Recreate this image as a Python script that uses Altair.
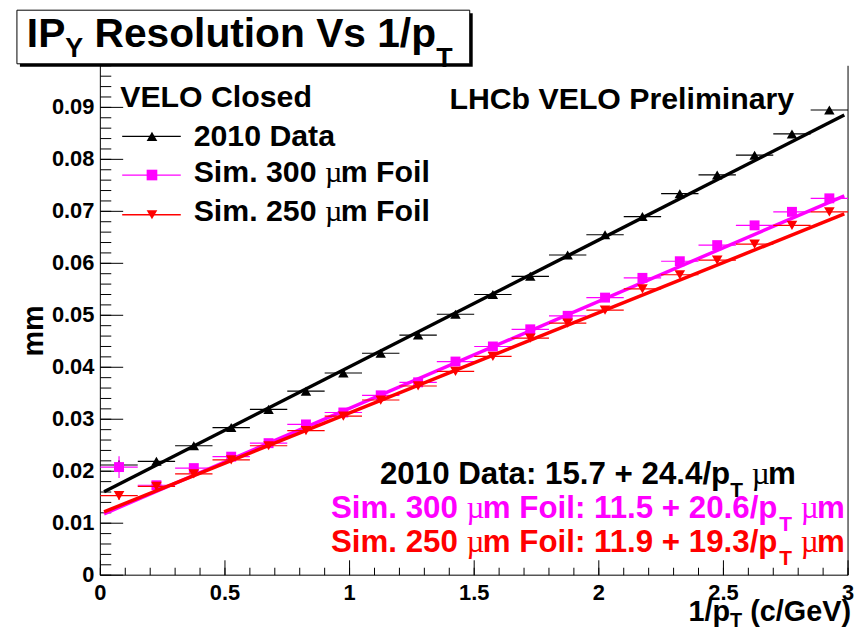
import altair as alt
import pandas as pd

# ------------------------------------------------------------------ data
bin_centers = [0.075, 0.225, 0.375, 0.525, 0.675, 0.825, 0.975, 1.125, 1.275, 1.425,
               1.575, 1.725, 1.875, 2.025, 2.175, 2.325, 2.475, 2.625, 2.775, 2.925]
bin_half_width = 0.075

data_2010 = [0.0212, 0.0219, 0.0249, 0.0284, 0.0319, 0.0354, 0.0389, 0.0427, 0.0462, 0.0502,
             0.0540, 0.0575, 0.0616, 0.0655, 0.0690, 0.0734, 0.0770, 0.0808, 0.0849, 0.0895]
err_2010 = [0.0009, 0.0005, 0.0004, 0.0004, 0.0004, 0.0004, 0.0004, 0.0004, 0.0004, 0.0004,
            0.0004, 0.0004, 0.0004, 0.0004, 0.0004, 0.0004, 0.0004, 0.0005, 0.0005, 0.0005]

sim_300 = [0.0208, 0.0173, 0.0206, 0.0228, 0.0254, 0.0290, 0.0313, 0.0346, 0.0371, 0.0411,
           0.0440, 0.0473, 0.0499, 0.0534, 0.0572, 0.0604, 0.0635, 0.0673, 0.0699, 0.0725]
err_300 = [0.0021, 0.0006, 0.0004, 0.0004, 0.0004, 0.0004, 0.0004, 0.0004, 0.0004, 0.0004,
           0.0004, 0.0004, 0.0004, 0.0004, 0.0004, 0.0004, 0.0004, 0.0005, 0.0005, 0.0005]

sim_250 = [0.0153, 0.0171, 0.0195, 0.0222, 0.0249, 0.0278, 0.0306, 0.0337, 0.0364, 0.0392,
           0.0421, 0.0456, 0.0485, 0.0510, 0.0551, 0.0578, 0.0606, 0.0637, 0.0673, 0.0699]
err_250 = [0.0008, 0.0005, 0.0004, 0.0004, 0.0004, 0.0004, 0.0004, 0.0004, 0.0004, 0.0004,
           0.0004, 0.0004, 0.0004, 0.0004, 0.0004, 0.0004, 0.0004, 0.0005, 0.0005, 0.0005]

series_labels = ["2010 Data", "Sim. 300", "Sim. 250"]
fit_const_um = [15.7, 11.5, 11.9]
fit_slope_um = [24.4, 20.6, 19.3]
fit_x_range = [0.015, 2.985]

x_domain = [0, 3]
y_domain = [0, 0.098]
x_tick_labels = [0, 0.5, 1, 1.5, 2, 2.5, 3]
y_tick_labels = [0, 0.01, 0.02, 0.03, 0.04, 0.05, 0.06, 0.07, 0.08, 0.09]
x_minor_ticks = [round(i * 0.1, 1) for i in range(31)]
y_minor_ticks = [round(i * 0.002, 3) for i in range(50)]

# ------------------------------------------------------------------ style
colors = ["#000000", "#ff00ff", "#ff0000"]
shapes = ["triangle-up", "square", "triangle-down"]
marker_sizes = [110, 100, 115]
SANS = "Liberation Sans"
SERIF = "Liberation Serif"

LEFT, TOP = 101, 64          # page position of plot origin
W, H = 753, 513              # plot area


def X(px):
    return px - LEFT


def Y(py):
    return py - TOP


xs = alt.Scale(domain=x_domain, nice=False, zero=False)
ys = alt.Scale(domain=y_domain, nice=False, zero=False)
one = pd.DataFrame({"k": [0]})

# Helvetica/Arial bold advance widths (1/1000 em)
SANS_B = {' ': 278, '.': 278, ':': 333, '+': 584, '/': 278, '(': 333, ')': 333,
          'D': 722, 'a': 556, 't': 333, 'S': 667, 'i': 278, 'm': 889, 'F': 611,
          'o': 611, 'l': 278, 'p': 611, 'T': 611, 'Y': 667, 'I': 278, 'P': 667,
          'R': 722, 'e': 556, 's': 556, 'u': 611, 'n': 611, 'V': 667, 'c': 556,
          'G': 778, 'E': 667, 'L': 611, 'O': 778, 'C': 722, 'd': 611, 'H': 722,
          'b': 611, 'r': 389, 'y': 556}
for d in "0123456789":
    SANS_B[d] = 556


def adv(t, size, kind):
    if kind == "mu":
        return 0.52 * size * len(t)
    return sum(SANS_B.get(ch, 556) for ch in t) * size / 1000.0


def txt(t, px, py, size, color, kind="b", align="left", angle=0, baseline="alphabetic"):
    font = SERIF if kind == "mu" else SANS
    weight = "normal" if kind == "mu" else "bold"
    return alt.Chart(one).mark_text(
        align=align, baseline=baseline, font=font, fontSize=size, fontWeight=weight,
        color=color, angle=angle
    ).encode(x=alt.value(X(px)), y=alt.value(Y(py)), text=alt.value(t))


def text_runs(runs, x0, base, color, align="left"):
    total = sum(adv(t, s, k) for t, s, dy, k in runs)
    if align == "center":
        x = x0 - total / 2
    elif align == "right":
        x = x0 - total
    else:
        x = x0
    out = []
    for t, s, dy, k in runs:
        if t.strip():
            lead = adv(t[:len(t) - len(t.lstrip())], s, k)
            out.append(txt(t.strip(), x + lead, base + dy, s, color, k))
        x += adv(t, s, k)
    return out


layers = []

# ------------------------------------------------------------------ frame, ticks (inside), labels
layers.append(alt.Chart(one).mark_rule(color="black", strokeWidth=1).encode(
    x=alt.value(0), y=alt.value(0), y2=alt.value(H)))
layers.append(alt.Chart(one).mark_rule(color="black", strokeWidth=1).encode(
    x=alt.value(0), x2=alt.value(W), y=alt.value(H)))
layers.append(alt.Chart(one).mark_rule(color="black", strokeWidth=1).encode(
    x=alt.value(W), y=alt.value(0), y2=alt.value(H)))

layers.append(alt.Chart(pd.DataFrame({"v": y_minor_ticks})).mark_rule(color="black", strokeWidth=1).encode(
    y=alt.Y("v:Q", scale=ys, axis=None), x=alt.value(0), x2=alt.value(11)))
layers.append(alt.Chart(pd.DataFrame({"v": y_tick_labels})).mark_rule(color="black", strokeWidth=1).encode(
    y=alt.Y("v:Q", scale=ys, axis=None), x=alt.value(0), x2=alt.value(23)))
layers.append(alt.Chart(pd.DataFrame({"v": x_minor_ticks})).mark_rule(color="black", strokeWidth=1).encode(
    x=alt.X("v:Q", scale=xs, axis=None), y=alt.value(H), y2=alt.value(H - 7.5)))
layers.append(alt.Chart(pd.DataFrame({"v": x_tick_labels})).mark_rule(color="black", strokeWidth=1).encode(
    x=alt.X("v:Q", scale=xs, axis=None), y=alt.value(H), y2=alt.value(H - 15)))

ylab_df = pd.DataFrame({"v": y_tick_labels, "lab": [f"{v:g}" for v in y_tick_labels]})
layers.append(alt.Chart(ylab_df).mark_text(
    align="right", baseline="middle", font=SANS, fontWeight="bold", fontSize=22, color="black", dx=-6
).encode(y=alt.Y("v:Q", scale=ys, axis=None), x=alt.value(0), text="lab:N"))
xlab_df = pd.DataFrame({"v": x_tick_labels, "lab": [f"{v:g}" for v in x_tick_labels]})
layers.append(alt.Chart(xlab_df).mark_text(
    align="center", baseline="top", font=SANS, fontWeight="bold", fontSize=22, color="black"
).encode(x=alt.X("v:Q", scale=xs, axis=None), y=alt.value(H + 8), text="lab:N"))

# ------------------------------------------------------------------ series
series_values = [data_2010, sim_300, sim_250]
series_errors = [err_2010, err_300, err_250]
for i in range(3):
    vals, errs = series_values[i], series_errors[i]
    df = pd.DataFrame({
        "x": bin_centers, "y": vals,
        "xlo": [b - bin_half_width for b in bin_centers],
        "xhi": [b + bin_half_width for b in bin_centers],
        "ylo": [v - e for v, e in zip(vals, errs)],
        "yhi": [v + e for v, e in zip(vals, errs)],
    })
    c = colors[i]
    layers.append(alt.Chart(df).mark_rule(color=c, strokeWidth=1.2).encode(
        x=alt.X("xlo:Q", scale=xs, axis=None), x2="xhi:Q",
        y=alt.Y("y:Q", scale=ys, axis=None)))
    layers.append(alt.Chart(df).mark_rule(color=c, strokeWidth=1.2).encode(
        x=alt.X("x:Q", scale=xs, axis=None),
        y=alt.Y("ylo:Q", scale=ys, axis=None), y2="yhi:Q"))
    layers.append(alt.Chart(df).mark_point(shape=shapes[i], filled=True, size=marker_sizes[i],
                                           color=c, opacity=1).encode(
        x=alt.X("x:Q", scale=xs, axis=None), y=alt.Y("y:Q", scale=ys, axis=None)))
    fit_df = pd.DataFrame({"x": fit_x_range,
                           "y": [(fit_const_um[i] + fit_slope_um[i] * xv) / 1000.0 for xv in fit_x_range]})
    layers.append(alt.Chart(fit_df).mark_line(color=c, strokeWidth=3.5).encode(
        x=alt.X("x:Q", scale=xs, axis=None), y=alt.Y("y:Q", scale=ys, axis=None)))

# ------------------------------------------------------------------ axis titles
layers.append(txt("mm", 34, 331, 29, "black", angle=270, align="center", baseline="middle"))
layers += text_runs([("1/p", 29, 0, "b"), ("T", 20, 6, "b"), (" ", 29, 0, "b"), ("(c/GeV)", 29, 0, "b")],
                    857, 623, "black", align="right")

# ------------------------------------------------------------------ legend
LS = 30.5
layers += text_runs([("VELO Closed", LS, 0, "b")], 121, 105, "black")
leg_y = [135, 174, 214]
leg_base = [145, 181, 220]
for i in range(3):
    layers.append(alt.Chart(one).mark_rule(color=colors[i], strokeWidth=1.3).encode(
        x=alt.value(X(123)), x2=alt.value(X(182)), y=alt.value(Y(leg_y[i]))))
    layers.append(alt.Chart(one).mark_point(shape=shapes[i], filled=True, size=115,
                                            color=colors[i], opacity=1).encode(
        x=alt.value(X(153)), y=alt.value(Y(leg_y[i]))))
    if i == 0:
        runs = [(series_labels[i], LS, 0, "b")]
    else:
        runs = [(series_labels[i] + " ", LS, 0, "b"), ("µ", LS, 0, "mu"), ("m Foil", LS, 0, "b")]
    layers += text_runs(runs, 195, leg_base[i], "black")

layers += text_runs([("LHCb VELO Preliminary", LS, 0, "b")], 800, 108, "black", align="right")

# ------------------------------------------------------------------ fit results
FS, SS = 31.5, 21
fit_base = [485, 519, 554]
for i in range(3):
    formula = f"{fit_const_um[i]} + {fit_slope_um[i]}/p"
    if i == 0:
        runs = [(f"{series_labels[i]}: {formula}", FS, 0, "b")]
    else:
        runs = [(series_labels[i] + " ", FS, 0, "b"), ("µ", FS, 0, "mu"), (f"m Foil: {formula}", FS, 0, "b")]
    runs += [("T", SS, 13, "b"), (" ", FS, 0, "b"), ("µ", FS, 0, "mu"), ("m", FS, 0, "b")]
    layers += text_runs(runs, 592, fit_base[i], colors[i], align="center")

# ------------------------------------------------------------------ title box
layers.append(alt.Chart(one).mark_rect(color="black").encode(
    x=alt.value(X(20)), x2=alt.value(X(476)), y=alt.value(Y(11)), y2=alt.value(Y(65))))
layers.append(alt.Chart(one).mark_rect(fill="white", stroke="black", strokeWidth=1).encode(
    x=alt.value(X(17)), x2=alt.value(X(473)), y=alt.value(Y(8)), y2=alt.value(Y(62))))
layers += text_runs([("IP", 41, 0, "b"), ("Y", 27, 10, "b"), (" ", 41, 0, "b"),
                     ("Resolution Vs 1/p", 41, 0, "b"), ("T", 27, 20, "b")], 27, 45, "black")

chart = alt.layer(*layers).properties(
    width=W, height=H,
    padding={"left": LEFT - 8, "top": TOP - 8, "right": 6, "bottom": 53},
    autosize=alt.AutoSizeParams(type="none"),
    background="white",
).configure_view(strokeWidth=0)

chart.save("out.html", embed_options={"renderer": "svg", "actions": False})
